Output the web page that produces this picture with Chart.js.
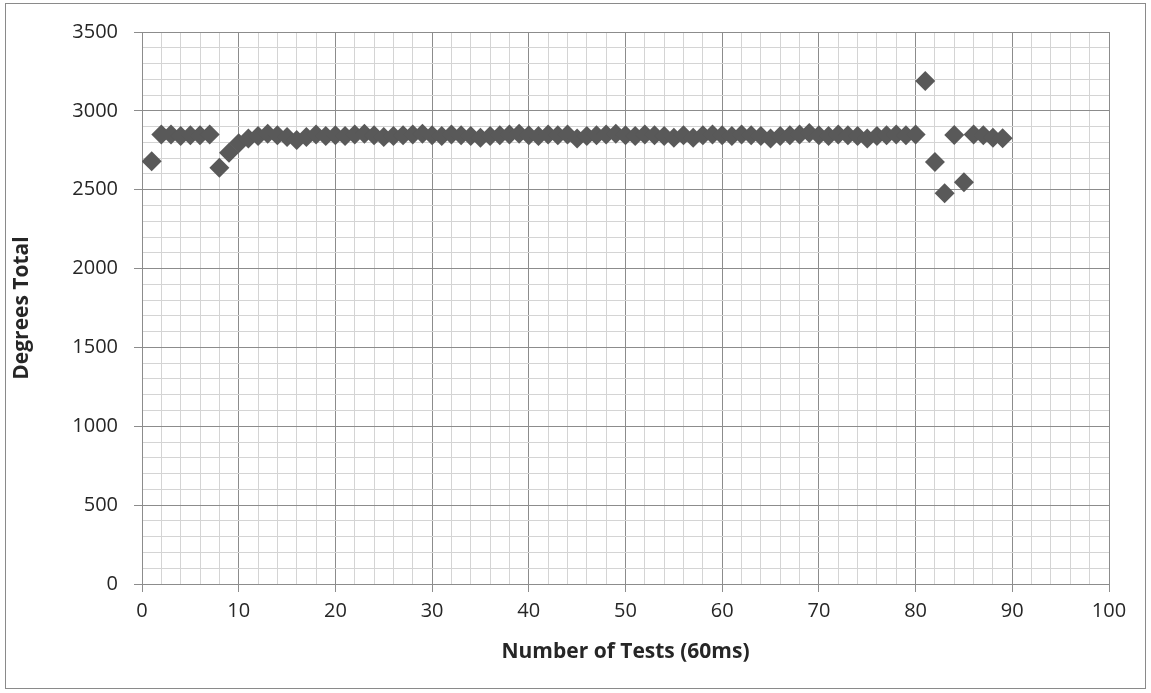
<!DOCTYPE html>
<html>
<head>
<meta charset="utf-8">
<script src="https://cdn.jsdelivr.net/npm/chart.js@4"></script>
<style>
  body { margin: 0; background: #fff; }
  #wrap {
    position: absolute; left: 5px; top: 3px;
    width: 1141px; height: 686px;
    box-sizing: border-box; border: 1px solid #8a8a8a;
  }
</style>
</head>
<body>
<div id="wrap"><canvas id="chart"></canvas></div>
<script>
// test number (x) and total degrees read for that test (y)
const testNumbers = [
  1, 2, 3, 4, 5, 6, 7, 8, 9, 10,
  11, 12, 13, 14, 15, 16, 17, 18, 19, 20,
  21, 22, 23, 24, 25, 26, 27, 28, 29, 30,
  31, 32, 33, 34, 35, 36, 37, 38, 39, 40,
  41, 42, 43, 44, 45, 46, 47, 48, 49, 50,
  51, 52, 53, 54, 55, 56, 57, 58, 59, 60,
  61, 62, 63, 64, 65, 66, 67, 68, 69, 70,
  71, 72, 73, 74, 75, 76, 77, 78, 79, 80,
  81, 82, 83, 84, 85, 86, 87, 88, 89
];
const degreesTotal = [
  2680, 2850, 2850, 2840, 2845, 2845, 2850, 2640, 2735, 2795,
  2825, 2840, 2855, 2845, 2835, 2815, 2835, 2850, 2840, 2845,
  2840, 2850, 2855, 2845, 2835, 2840, 2845, 2850, 2855, 2845,
  2840, 2850, 2845, 2840, 2830, 2840, 2845, 2850, 2855, 2845,
  2840, 2850, 2845, 2850, 2825, 2840, 2845, 2850, 2855, 2845,
  2840, 2850, 2845, 2840, 2830, 2845, 2830, 2845, 2850, 2845,
  2840, 2850, 2845, 2840, 2825, 2840, 2845, 2850, 2860, 2845,
  2840, 2850, 2845, 2840, 2825, 2840, 2845, 2850, 2845, 2850,
  3190, 2675, 2478, 2847, 2548, 2850, 2845, 2830, 2826
];

const xMajor = 10, yMajor = 500;
const majorGrid = '#8c8c8c';
const minorGrid = '#d4d4d4';
const tickFont = { family: 'Open Sans', size: 20 };
const titleFont = { family: 'Open Sans', size: 21, weight: 'bold' };

const points = testNumbers.map((x, i) => ({ x: x, y: degreesTotal[i] }));

new Chart(document.getElementById('chart'), {
  type: 'scatter',
  data: {
    datasets: [{
      data: points,
      pointStyle: 'rectRot',
      pointRadius: 10,
      pointHoverRadius: 10,
      backgroundColor: '#595959',
      borderWidth: 0
    }]
  },
  options: {
    responsive: true,
    maintainAspectRatio: false,
    animation: false,
    layout: { padding: { left: 0, top: 26, right: 36, bottom: 0 } },
    plugins: { legend: { display: false }, tooltip: { enabled: false } },
    scales: {
      x: {
        type: 'linear',
        min: 0, max: 100,
        afterFit: s => { s.height = 104; },
        ticks: {
          stepSize: 2,
          autoSkip: false,
          maxRotation: 0,
          padding: 7,
          color: '#262626',
          font: tickFont,
          callback: v => (v % xMajor === 0 ? v : '')
        },
        grid: {
          tickLength: 8,
          color: c => (c.tick && c.tick.value % xMajor === 0 ? majorGrid : minorGrid),
          tickColor: c => (c.tick && c.tick.value % xMajor === 0 ? majorGrid : 'rgba(0,0,0,0)')
        },
        border: { color: majorGrid },
        title: {
          display: true,
          text: 'Number of Tests (60ms)',
          color: '#262626',
          font: titleFont,
          padding: { top: 0, bottom: 23 }
        }
      },
      y: {
        min: 0, max: 3500,
        afterFit: s => { s.width = 136; },
        ticks: {
          stepSize: 100,
          autoSkip: false,
          padding: 16,
          color: '#262626',
          font: tickFont,
          callback: v => (v % yMajor === 0 ? v : '')
        },
        grid: {
          tickLength: 8,
          color: c => (c.tick && c.tick.value % yMajor === 0 ? majorGrid : minorGrid),
          tickColor: c => (c.tick && c.tick.value % yMajor === 0 ? majorGrid : 'rgba(0,0,0,0)')
        },
        border: { color: majorGrid },
        title: {
          display: true,
          text: 'Degrees Total',
          color: '#262626',
          font: titleFont,
          padding: { top: 3, bottom: 0 }
        }
      }
    }
  }
});
</script>
</body>
</html>
